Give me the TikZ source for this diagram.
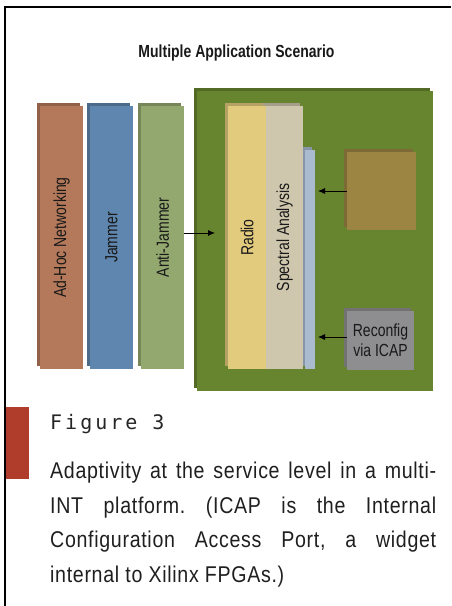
\documentclass[tikz,border=0pt]{standalone}
\usepackage{fontspec}
\usepackage{tikz}
\usetikzlibrary{shadows,arrows.meta}
\setmainfont{Liberation Sans}
\newfontfamily\diagfont[FakeStretch=0.8]{Liberation Sans}
\newfontfamily\capfont[FakeStretch=0.86,LetterSpace=3]{Liberation Sans}
\newfontfamily\figfont[LetterSpace=15]{DejaVu Sans Mono}
\frenchspacing

\definecolor{adhoccol}{HTML}{B4795A}
\definecolor{jamcol}{HTML}{5F86AE}
\definecolor{antijamcol}{HTML}{93A86E}
\definecolor{boardcol}{HTML}{66852E}
\definecolor{radiocol}{HTML}{E3CB7E}
\definecolor{spectcol}{HTML}{CFC6AE}
\definecolor{sidecol}{HTML}{AABACF}
\definecolor{usercol}{HTML}{9C8443}
\definecolor{icapcol}{HTML}{8E8E90}
\definecolor{barcol}{HTML}{B03C2C}

\tikzset{
 slab/.style={fill=#1, draw=none, inner sep=0pt,
  copy shadow={shadow xshift=-3pt, shadow yshift=3pt, fill=#1!80!black, draw=none}},
 lbl/.style={font=\diagfont\fontsize{17.5}{20}\selectfont, text=black!90},
 arr/.style={-{Latex[length=7pt,width=6pt]}, line width=0.8pt}
}

\begin{document}
\begin{tikzpicture}[x=1pt, y=-1pt]
 \useasboundingbox (0,0) rectangle (451,606);
 \fill[barcol] (6,407) rectangle (29,479);
 \draw[line width=2pt] (451,7) -- (5,7) -- (5,606);

 \node[lbl, font=\diagfont\bfseries\fontsize{17.5}{20}\selectfont] (title) at (236.5,53) {Multiple Application Scenario};

 \node[slab=adhoccol, minimum width=43pt, minimum height=263pt, lbl] (adhoc) at (61.5,237.5) {\rotatebox{90}{Ad-Hoc Networking}};
 \node[slab=jamcol, minimum width=43pt, minimum height=263pt, lbl] (jammer) at (111.5,237.5) {\rotatebox{90}{Jammer}};
 \node[slab=antijamcol, minimum width=43pt, minimum height=263pt, lbl] (antijam) at (162.5,237.5) {\rotatebox{90}{Anti-Jammer}};

 \node[slab=boardcol, minimum width=236pt, minimum height=300pt] (board) at (315,241) {};
 \node[slab=sidecol, minimum width=10pt, minimum height=219pt] (side) at (310,259.5) {};
 \node[slab=spectcol, minimum width=37pt, minimum height=263pt, lbl] (spectral) at (284.5,237.5) {\rotatebox{90}{Spectral Analysis}};
 \node[slab=radiocol, minimum width=38pt, minimum height=263pt, lbl] (radio) at (247,237.5) {\rotatebox{90}{Radio}};
 \node[slab=usercol, minimum width=69pt, minimum height=78pt] (userblk) at (381.5,191) {};
 \node[slab=icapcol, minimum width=67pt, minimum height=59pt, lbl, align=center] (reconfig) at (380.5,340.5) {Reconfig\\via ICAP};

 \coordinate (radioin) at (215,233);
 \coordinate (sidein1) at (318,191);
 \coordinate (sidein2) at (318,337);
 \draw[arr] (antijam.east |- radioin) -- (radioin);
 \draw[arr] (userblk.west) -- (sidein1);
 \draw[arr] (reconfig.west |- sidein2) -- (sidein2);

 % caption
 \node[anchor=base west, inner sep=0pt, font=\figfont\fontsize{20}{22}\selectfont, text=black!85] (fig) at (50,429) {Figure 3};
 \node[anchor=base west, inner sep=0pt, font=\capfont\fontsize{22.8}{26}\selectfont, text=black!88] (cap1) at (50,478) {\makebox[386pt][s]{Adaptivity at the service level in a multi-}};
 \node[anchor=base west, inner sep=0pt, font=\capfont\fontsize{22.8}{26}\selectfont, text=black!88] (cap2) at (50,513) {\makebox[386pt][s]{INT platform. (ICAP is the Internal}};
 \node[anchor=base west, inner sep=0pt, font=\capfont\fontsize{22.8}{26}\selectfont, text=black!88] (cap3) at (50,547.5) {\makebox[386pt][s]{Configuration Access Port, a widget}};
 \node[anchor=base west, inner sep=0pt, font=\capfont\fontsize{22.8}{26}\selectfont, text=black!88] (cap4) at (50,582) {internal to Xilinx FPGAs.)};
\end{tikzpicture}
\end{document}
